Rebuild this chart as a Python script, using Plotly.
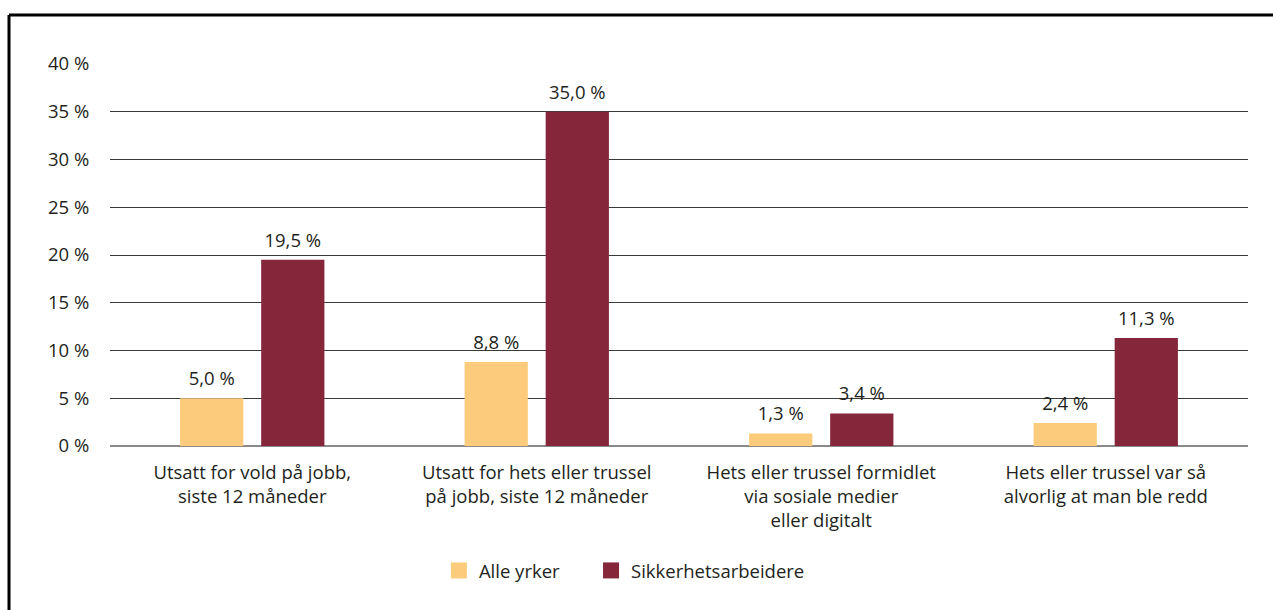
import plotly.graph_objects as go

# Categories (x-axis labels)
categories = [
    "Utsatt for vold på jobb,<br>siste 12 måneder",
    "Utsatt for hets eller trussel<br>på jobb, siste 12 måneder",
    "Hets eller trussel formidlet<br>via sosiale medier<br>eller digitalt",
    "Hets eller trussel var så<br>alvorlig at man ble redd",
]

# Values in percent
alle_yrker = [5.0, 8.8, 1.3, 2.4]
sikkerhetsarbeidere = [19.5, 35.0, 3.4, 11.3]

# Y-axis ticks
y_ticks = [0, 5, 10, 15, 20, 25, 30, 35, 40]
y_tick_labels = [f"{v} %" for v in y_ticks]

series = [
    ("Alle yrker", alle_yrker, "#fccc7c"),
    ("Sikkerhetsarbeidere", sikkerhetsarbeidere, "#85263b"),
]

W, H = 1273, 610
ML, MR, MT, MB = 110, 25, 64, 164
text_color = "#231f20"
font_family = "Open Sans, Noto Sans, sans-serif"
FS = 18.5

fig = go.Figure()
for i, (name, vals, color) in enumerate(series):
    fig.add_trace(go.Bar(
        x=categories, y=vals, name=name, showlegend=False,
        marker=dict(color=color, line=dict(width=0)),
        hoverinfo="skip",
    ))
# value labels, grouped the same way as the bars
for i, (name, vals, color) in enumerate(series):
    fig.add_trace(go.Scatter(
        x=categories, y=vals, mode="markers+text", showlegend=False,
        alignmentgroup="labels", offsetgroup=str(i),
        marker=dict(size=12, opacity=0),
        text=[f"{v:.1f} %".replace(".", ",") for v in vals],
        textposition="top center", cliponaxis=False,
        textfont=dict(size=FS, color=text_color), hoverinfo="skip",
    ))
# legend entries with larger square symbols, one legend each
legend_x = [0.289, 0.4227]
for i, (name, vals, color) in enumerate(series):
    fig.add_trace(go.Scatter(
        x=[None], y=[None], mode="markers", name=name,
        alignmentgroup="legend", offsetgroup=str(i),
        legend="legend" if i == 0 else f"legend{i + 1}",
        marker=dict(symbol="square", size=16, color=color),
    ))

# frame lines (top and left), partially cropped in the original
pw = W - ML - MR
ph = H - MT - MB
top_y = 1 + (MT - 15) / ph
left_x = (9 - ML) / pw
fig.add_shape(type="line", xref="paper", yref="paper",
              x0=left_x, x1=(W + 10 - ML) / pw, y0=top_y, y1=top_y,
              line=dict(color="black", width=3))
fig.add_shape(type="line", xref="paper", yref="paper",
              x0=left_x, x1=left_x, y0=top_y, y1=-(MB + 10) / ph,
              line=dict(color="black", width=3))

legend_style = dict(orientation="h", xanchor="left", y=-0.327, yanchor="middle",
                    font=dict(size=FS, color=text_color), itemsizing="trace",
                    bgcolor="rgba(0,0,0,0)")

fig.update_layout(
    width=W, height=H,
    margin=dict(l=ML, r=MR, t=MT, b=MB),
    paper_bgcolor="white", plot_bgcolor="white",
    separators=", ",
    barmode="group", bargap=0.43, bargroupgap=0.22,
    scattermode="group", scattergap=0.43,
    font=dict(family=font_family, size=FS, color=text_color),
    showlegend=True,
    legend=dict(x=legend_x[0], **legend_style),
    legend2=dict(x=legend_x[1], **legend_style),
    xaxis=dict(showline=False, showgrid=False, ticks="outside", ticklen=10,
               tickcolor="rgba(0,0,0,0)", tickfont=dict(size=FS, color=text_color)),
    yaxis=dict(range=[0, 40], tickvals=y_ticks, ticktext=y_tick_labels,
               showgrid=True, gridcolor="#3a3a3a", gridwidth=1,
               zeroline=True, zerolinecolor="#8a8a8a", zerolinewidth=2,
               showline=False, ticks="outside", ticklen=16, tickcolor="rgba(0,0,0,0)",
               tickfont=dict(size=FS, color=text_color)),
)

fig.write_html("out.html", config={"displayModeBar": False},
               post_script="document.body.style.margin='0px';document.body.style.overflow='hidden';")
